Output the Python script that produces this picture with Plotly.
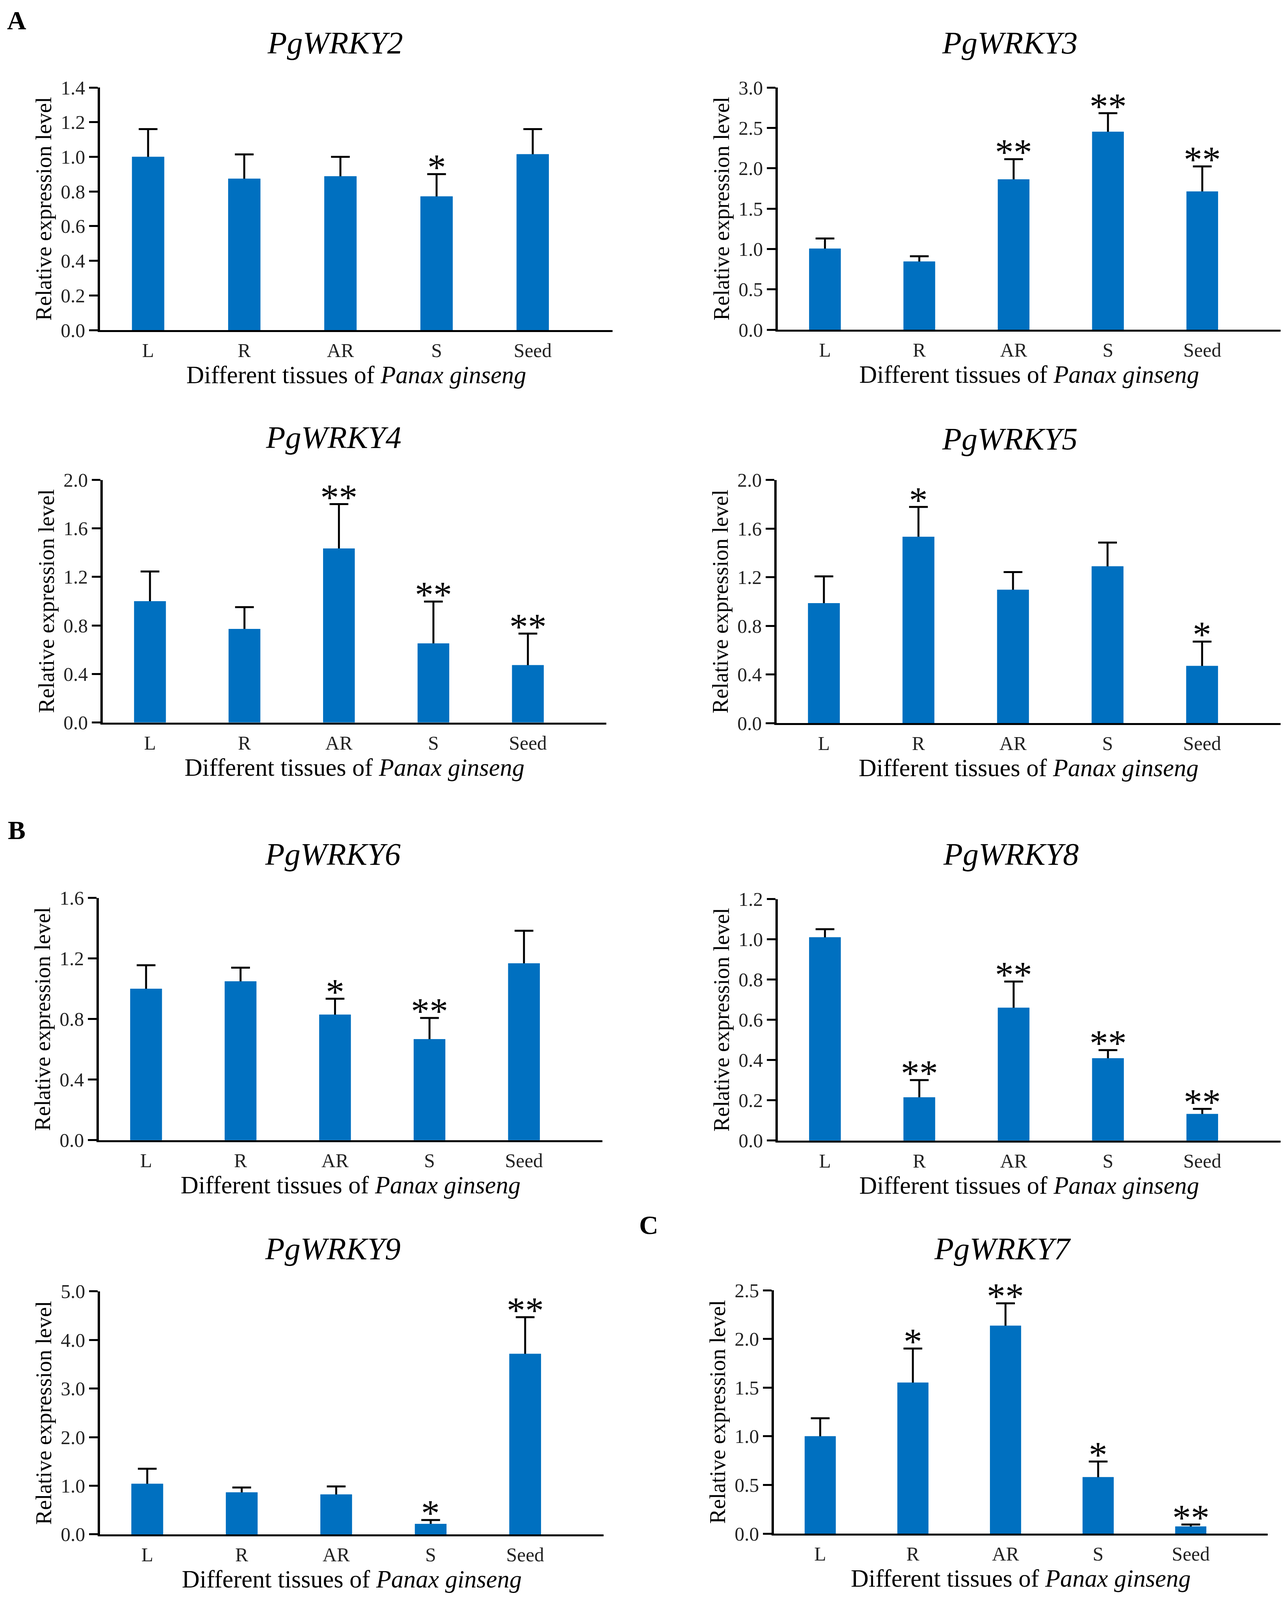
import plotly.graph_objects as go

W, H = 3297, 4241

tissues = ["L", "R", "AR", "S", "Seed"]
genes = ["PgWRKY2", "PgWRKY3", "PgWRKY4", "PgWRKY5", "PgWRKY6", "PgWRKY8", "PgWRKY9", "PgWRKY7"]

# mean relative expression and upper error (SD) per tissue
wrky2_mean = [1.00, 0.874, 0.888, 0.772, 1.015]
wrky2_err = [0.16, 0.14, 0.112, 0.128, 0.145]
wrky3_mean = [1.005, 0.845, 1.863, 2.452, 1.713]
wrky3_err = [0.125, 0.065, 0.25, 0.23, 0.31]
wrky4_mean = [1.00, 0.771, 1.435, 0.652, 0.473]
wrky4_err = [0.245, 0.18, 0.365, 0.345, 0.26]
wrky5_mean = [0.987, 1.533, 1.097, 1.29, 0.471]
wrky5_err = [0.22, 0.245, 0.145, 0.195, 0.20]
wrky6_mean = [1.00, 1.049, 0.829, 0.667, 1.168]
wrky6_err = [0.155, 0.09, 0.105, 0.14, 0.215]
wrky8_mean = [1.01, 0.215, 0.66, 0.409, 0.132]
wrky8_err = [0.04, 0.085, 0.13, 0.04, 0.025]
wrky9_mean = [1.04, 0.864, 0.821, 0.216, 3.715]
wrky9_err = [0.31, 0.10, 0.165, 0.08, 0.755]
wrky7_mean = [1.00, 1.551, 2.136, 0.58, 0.073]
wrky7_err = [0.185, 0.35, 0.23, 0.16, 0.02]

# significance marks
wrky2_sig = ["", "", "", "*", ""]
wrky3_sig = ["", "", "**", "**", "**"]
wrky4_sig = ["", "", "**", "**", "**"]
wrky5_sig = ["", "*", "", "", "*"]
wrky6_sig = ["", "", "*", "**", ""]
wrky8_sig = ["", "**", "**", "**", "**"]
wrky9_sig = ["", "", "", "*", "**"]
wrky7_sig = ["", "*", "**", "*", "**"]

# y-axis maximum and tick step
y_max = [1.4, 3.0, 2.0, 2.0, 1.6, 1.2, 5.0, 2.5]
y_step = [0.2, 0.5, 0.4, 0.4, 0.4, 0.2, 1.0, 0.5]

means = [wrky2_mean, wrky3_mean, wrky4_mean, wrky5_mean, wrky6_mean, wrky8_mean, wrky9_mean, wrky7_mean]
errs = [wrky2_err, wrky3_err, wrky4_err, wrky5_err, wrky6_err, wrky8_err, wrky9_err, wrky7_err]
sigs = [wrky2_sig, wrky3_sig, wrky4_sig, wrky5_sig, wrky6_sig, wrky8_sig, wrky9_sig, wrky7_sig]

# panel boxes in reference pixels: (left, right, top, bottom) of plot area
boxes = [
    (256, 1568, 232, 875),
    (1991, 3278, 232, 874),
    (263, 1552, 1272, 1915),
    (1988, 3278, 1272, 1917),
    (253, 1542, 2380, 3022),
    (1991, 3278, 2383, 3023),
    (256, 1545, 3423, 4067),
    (1981, 3245, 3420, 4065),
]
# title centres in reference pixels
title_pos = [(858, 114), (2585, 114), (854, 1160), (2585, 1164),
             (852, 2264), (2588, 2264), (852, 3310), (2566, 3310)]

FONT = "Liberation Serif"
BLUE = "#0070C0"

fig = go.Figure()
layout = dict(
    autosize=True,
    margin=dict(l=0, r=0, t=0, b=0),
    paper_bgcolor="white", plot_bgcolor="white",
    showlegend=False, barmode="overlay",
    font=dict(family=FONT, color="black"),
)
annotations = []

for i in range(8):
    n = i + 1
    xa = "x" if n == 1 else f"x{n}"
    ya = "y" if n == 1 else f"y{n}"
    # error bars (drawn first, lower half hidden behind the bars)
    fig.add_trace(go.Bar(
        x=tissues, y=means[i],
        xaxis=xa, yaxis=ya,
        width=0.335,
        marker=dict(color=BLUE, line=dict(width=0)),
        error_y=dict(type="data", array=errs[i], symmetric=True,
                     color="black", thickness=5, width=24),
        hoverinfo="skip",
    ))
    # bars
    fig.add_trace(go.Bar(
        x=tissues, y=means[i],
        xaxis=xa, yaxis=ya,
        width=0.335,
        marker=dict(color=BLUE, line=dict(width=0)),
    ))
    l, r, t, b = boxes[i]
    xkey = "xaxis" if n == 1 else f"xaxis{n}"
    ykey = "yaxis" if n == 1 else f"yaxis{n}"
    layout[xkey] = dict(
        domain=[l / W, r / W], anchor=ya,
        type="category", range=[-0.5, 4.83],
        showline=True, linecolor="black", linewidth=5,
        ticks="", showgrid=False, zeroline=False,
        ticklabelstandoff=4,
        tickfont=dict(family=FONT, size=50, color="#222"),
        title=dict(text="Different tissues of <i>Panax ginseng</i>",
                   font=dict(family=FONT, size=63, color="black"), standoff=6),
        automargin=False, fixedrange=True,
    )
    layout[ykey] = dict(
        domain=[1 - b / H, 1 - t / H], anchor=xa,
        range=[0, y_max[i]], tick0=0, dtick=y_step[i], tickformat=".1f",
        showline=True, linecolor="black", linewidth=6,
        ticks="outside", ticklen=22, tickwidth=5, tickcolor="black",
        showgrid=False, zeroline=False,
        tickfont=dict(family=FONT, size=50, color="#222"),
        title=dict(text="Relative expression level",
                   font=dict(family=FONT, size=57, color="black"), standoff=8),
        automargin=False, fixedrange=True,
    )
    tx, ty = title_pos[i]
    annotations.append(dict(
        text=f"<i>{genes[i]}</i>", x=tx / W, y=1 - ty / H, xref="paper", yref="paper",
        xanchor="center", yanchor="middle", showarrow=False,
        font=dict(family=FONT, size=81, color="black"),
    ))
    for j, s in enumerate(sigs[i]):
        if s:
            annotations.append(dict(
                text=s, x=tissues[j], y=means[i][j] + errs[i][j], xref=xa, yref=ya,
                xanchor="center", yanchor="bottom", yshift=-38, showarrow=False,
                font=dict(family=FONT, size=95, color="black"),
            ))

for lab, px, py in [("A", 42, 54), ("B", 42, 2200), ("C", 1660, 3247)]:
    annotations.append(dict(
        text=f"<b>{lab}</b>", x=px / W, y=1 - py / H, xref="paper", yref="paper",
        xanchor="center", yanchor="middle", showarrow=False,
        font=dict(family=FONT, size=68, color="black"),
    ))

layout["annotations"] = annotations
fig.update_layout(**layout)

post = ("document.body.style.margin='0';"
        "document.documentElement.style.overflow='hidden';"
        "document.body.style.overflow='hidden';"
        "var gd=document.getElementById('{plot_id}');"
        "Plotly.Plots.resize(gd);")
fig.write_html("out.html", default_width="100vw", default_height="100vh",
               config={"responsive": True, "displayModeBar": False}, post_script=post)
